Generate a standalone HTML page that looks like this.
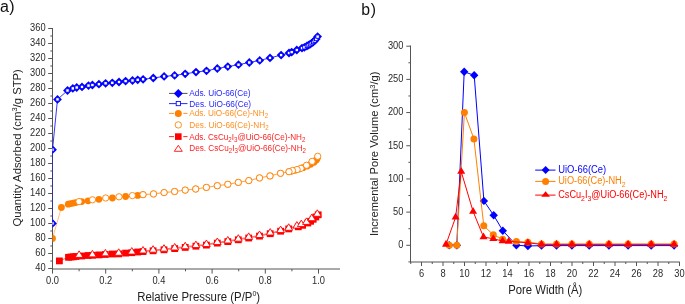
<!DOCTYPE html>
<html><head><meta charset="utf-8"><style>
html,body{margin:0;padding:0;background:#fff;}
body{width:685px;height:304px;overflow:hidden;}
svg{display:block;font-family:"Liberation Sans", sans-serif;will-change:transform;}
</style></head><body>
<svg width="685" height="304" viewBox="0 0 685 304">
<rect width="685" height="304" fill="#fff"/>
<line x1="52.5" y1="28" x2="52.5" y2="273" stroke="#555555" stroke-width="1"/>
<line x1="52.5" y1="269" x2="340" y2="269" stroke="#555555" stroke-width="1"/>
<line x1="48.2" y1="268.50" x2="52.5" y2="268.50" stroke="#555555" stroke-width="1"/>
<text x="0" y="0" font-size="9.3" fill="#2a2a2a" text-anchor="end" transform="translate(45.60,271.10) scale(1,1.17)">40</text>
<line x1="50.3" y1="261.00" x2="52.5" y2="261.00" stroke="#555555" stroke-width="1"/>
<line x1="48.2" y1="253.50" x2="52.5" y2="253.50" stroke="#555555" stroke-width="1"/>
<text x="0" y="0" font-size="9.3" fill="#2a2a2a" text-anchor="end" transform="translate(45.60,256.10) scale(1,1.17)">60</text>
<line x1="50.3" y1="246.00" x2="52.5" y2="246.00" stroke="#555555" stroke-width="1"/>
<line x1="48.2" y1="238.50" x2="52.5" y2="238.50" stroke="#555555" stroke-width="1"/>
<text x="0" y="0" font-size="9.3" fill="#2a2a2a" text-anchor="end" transform="translate(45.60,241.10) scale(1,1.17)">80</text>
<line x1="50.3" y1="231.00" x2="52.5" y2="231.00" stroke="#555555" stroke-width="1"/>
<line x1="48.2" y1="223.50" x2="52.5" y2="223.50" stroke="#555555" stroke-width="1"/>
<text x="0" y="0" font-size="9.3" fill="#2a2a2a" text-anchor="end" transform="translate(45.60,226.10) scale(1,1.17)">100</text>
<line x1="50.3" y1="216.00" x2="52.5" y2="216.00" stroke="#555555" stroke-width="1"/>
<line x1="48.2" y1="208.50" x2="52.5" y2="208.50" stroke="#555555" stroke-width="1"/>
<text x="0" y="0" font-size="9.3" fill="#2a2a2a" text-anchor="end" transform="translate(45.60,211.10) scale(1,1.17)">120</text>
<line x1="50.3" y1="201.00" x2="52.5" y2="201.00" stroke="#555555" stroke-width="1"/>
<line x1="48.2" y1="193.50" x2="52.5" y2="193.50" stroke="#555555" stroke-width="1"/>
<text x="0" y="0" font-size="9.3" fill="#2a2a2a" text-anchor="end" transform="translate(45.60,196.10) scale(1,1.17)">140</text>
<line x1="50.3" y1="186.00" x2="52.5" y2="186.00" stroke="#555555" stroke-width="1"/>
<line x1="48.2" y1="178.50" x2="52.5" y2="178.50" stroke="#555555" stroke-width="1"/>
<text x="0" y="0" font-size="9.3" fill="#2a2a2a" text-anchor="end" transform="translate(45.60,181.10) scale(1,1.17)">160</text>
<line x1="50.3" y1="171.00" x2="52.5" y2="171.00" stroke="#555555" stroke-width="1"/>
<line x1="48.2" y1="163.50" x2="52.5" y2="163.50" stroke="#555555" stroke-width="1"/>
<text x="0" y="0" font-size="9.3" fill="#2a2a2a" text-anchor="end" transform="translate(45.60,166.10) scale(1,1.17)">180</text>
<line x1="50.3" y1="156.00" x2="52.5" y2="156.00" stroke="#555555" stroke-width="1"/>
<line x1="48.2" y1="148.50" x2="52.5" y2="148.50" stroke="#555555" stroke-width="1"/>
<text x="0" y="0" font-size="9.3" fill="#2a2a2a" text-anchor="end" transform="translate(45.60,151.10) scale(1,1.17)">200</text>
<line x1="50.3" y1="141.00" x2="52.5" y2="141.00" stroke="#555555" stroke-width="1"/>
<line x1="48.2" y1="133.50" x2="52.5" y2="133.50" stroke="#555555" stroke-width="1"/>
<text x="0" y="0" font-size="9.3" fill="#2a2a2a" text-anchor="end" transform="translate(45.60,136.10) scale(1,1.17)">220</text>
<line x1="50.3" y1="126.00" x2="52.5" y2="126.00" stroke="#555555" stroke-width="1"/>
<line x1="48.2" y1="118.50" x2="52.5" y2="118.50" stroke="#555555" stroke-width="1"/>
<text x="0" y="0" font-size="9.3" fill="#2a2a2a" text-anchor="end" transform="translate(45.60,121.10) scale(1,1.17)">240</text>
<line x1="50.3" y1="111.00" x2="52.5" y2="111.00" stroke="#555555" stroke-width="1"/>
<line x1="48.2" y1="103.50" x2="52.5" y2="103.50" stroke="#555555" stroke-width="1"/>
<text x="0" y="0" font-size="9.3" fill="#2a2a2a" text-anchor="end" transform="translate(45.60,106.10) scale(1,1.17)">260</text>
<line x1="50.3" y1="96.00" x2="52.5" y2="96.00" stroke="#555555" stroke-width="1"/>
<line x1="48.2" y1="88.50" x2="52.5" y2="88.50" stroke="#555555" stroke-width="1"/>
<text x="0" y="0" font-size="9.3" fill="#2a2a2a" text-anchor="end" transform="translate(45.60,91.10) scale(1,1.17)">280</text>
<line x1="50.3" y1="81.00" x2="52.5" y2="81.00" stroke="#555555" stroke-width="1"/>
<line x1="48.2" y1="73.50" x2="52.5" y2="73.50" stroke="#555555" stroke-width="1"/>
<text x="0" y="0" font-size="9.3" fill="#2a2a2a" text-anchor="end" transform="translate(45.60,76.10) scale(1,1.17)">300</text>
<line x1="50.3" y1="66.00" x2="52.5" y2="66.00" stroke="#555555" stroke-width="1"/>
<line x1="48.2" y1="58.50" x2="52.5" y2="58.50" stroke="#555555" stroke-width="1"/>
<text x="0" y="0" font-size="9.3" fill="#2a2a2a" text-anchor="end" transform="translate(45.60,61.10) scale(1,1.17)">320</text>
<line x1="50.3" y1="51.00" x2="52.5" y2="51.00" stroke="#555555" stroke-width="1"/>
<line x1="48.2" y1="43.50" x2="52.5" y2="43.50" stroke="#555555" stroke-width="1"/>
<text x="0" y="0" font-size="9.3" fill="#2a2a2a" text-anchor="end" transform="translate(45.60,46.10) scale(1,1.17)">340</text>
<line x1="50.3" y1="36.00" x2="52.5" y2="36.00" stroke="#555555" stroke-width="1"/>
<line x1="48.2" y1="28.50" x2="52.5" y2="28.50" stroke="#555555" stroke-width="1"/>
<text x="0" y="0" font-size="9.3" fill="#2a2a2a" text-anchor="end" transform="translate(45.60,31.10) scale(1,1.17)">360</text>
<line x1="52.50" y1="269" x2="52.50" y2="273.6" stroke="#555555" stroke-width="1"/>
<text x="0" y="0" font-size="9.3" fill="#2a2a2a" text-anchor="middle" transform="translate(52.50,283.50) scale(1,1.17)">0.0</text>
<line x1="79.10" y1="269" x2="79.10" y2="271.3" stroke="#555555" stroke-width="1"/>
<line x1="105.70" y1="269" x2="105.70" y2="273.6" stroke="#555555" stroke-width="1"/>
<text x="0" y="0" font-size="9.3" fill="#2a2a2a" text-anchor="middle" transform="translate(105.70,283.50) scale(1,1.17)">0.2</text>
<line x1="132.30" y1="269" x2="132.30" y2="271.3" stroke="#555555" stroke-width="1"/>
<line x1="158.90" y1="269" x2="158.90" y2="273.6" stroke="#555555" stroke-width="1"/>
<text x="0" y="0" font-size="9.3" fill="#2a2a2a" text-anchor="middle" transform="translate(158.90,283.50) scale(1,1.17)">0.4</text>
<line x1="185.50" y1="269" x2="185.50" y2="271.3" stroke="#555555" stroke-width="1"/>
<line x1="212.10" y1="269" x2="212.10" y2="273.6" stroke="#555555" stroke-width="1"/>
<text x="0" y="0" font-size="9.3" fill="#2a2a2a" text-anchor="middle" transform="translate(212.10,283.50) scale(1,1.17)">0.6</text>
<line x1="238.70" y1="269" x2="238.70" y2="271.3" stroke="#555555" stroke-width="1"/>
<line x1="265.30" y1="269" x2="265.30" y2="273.6" stroke="#555555" stroke-width="1"/>
<text x="0" y="0" font-size="9.3" fill="#2a2a2a" text-anchor="middle" transform="translate(265.30,283.50) scale(1,1.17)">0.8</text>
<line x1="291.90" y1="269" x2="291.90" y2="271.3" stroke="#555555" stroke-width="1"/>
<line x1="318.50" y1="269" x2="318.50" y2="273.6" stroke="#555555" stroke-width="1"/>
<text x="0" y="0" font-size="9.3" fill="#2a2a2a" text-anchor="middle" transform="translate(318.50,283.50) scale(1,1.17)">1.0</text>
<text x="0" y="0" font-size="11.3" fill="#222" text-anchor="middle" transform="translate(20.6,147.8) rotate(-90)">Quantity Adsorbed (cm<tspan font-size="7.5" dy="-3.5">3</tspan><tspan dy="3.5">/g STP)</tspan></text>
<text x="0" y="0" transform="translate(137.2,301) scale(1,1.06)" font-size="11.4" fill="#222">Relative Pressure (P/P<tspan font-size="7" dy="-4.6">0</tspan><tspan dy="4.6">)</tspan></text>
<text x="0" y="11.8" font-size="16" fill="#111"><tspan>a</tspan><tspan dx="0.4">)</tspan></text>
<defs><clipPath id="cl"><rect x="52.5" y="20" width="300" height="249"/></clipPath><clipPath id="cr"><rect x="410.5" y="30" width="275" height="232"/></clipPath></defs>
<g clip-path="url(#cl)">
<polyline points="59.40,260.90 68.50,257.30 71.00,257.00 73.50,256.80 76.00,256.50 81.70,256.00 88.10,255.50 92.50,255.30 98.90,254.90 112.40,254.00 125.60,253.10 137.70,252.00 105.40,254.50 118.70,253.90 131.80,252.70 143.00,251.60 153.10,250.80 164.00,249.80 174.70,248.60 185.20,247.40 195.90,246.20 206.40,245.10 217.30,243.10 227.80,241.60 238.30,239.80 248.70,238.00 259.50,236.10 270.20,233.70 280.60,231.20 288.70,228.90 298.30,226.80 302.60,225.30 307.80,223.00 310.60,221.30 313.20,219.30 315.80,217.00 318.20,214.80" fill="none" stroke="#ff0000" stroke-width="0.6" stroke-linejoin="round"/>
<polyline points="317.30,214.10 311.70,218.50 306.50,222.20 301.30,224.40 296.90,225.90 288.70,228.10 280.60,230.40 270.20,232.90 259.50,235.30 248.70,237.20 238.30,239.00 227.80,240.80 217.30,242.30 206.40,244.30 195.90,245.40 185.20,246.60 174.70,247.80 164.00,249.00 153.10,250.00 143.00,250.80 131.80,251.90 118.70,253.10 105.40,253.70 92.40,254.70 79.10,255.20" fill="none" stroke="#ff0000" stroke-width="0.5" stroke-linejoin="round"/>
<rect x="56.00" y="257.50" width="6.80" height="6.80" fill="#ff0000"/>
<rect x="65.10" y="253.90" width="6.80" height="6.80" fill="#ff0000"/>
<rect x="67.60" y="253.60" width="6.80" height="6.80" fill="#ff0000"/>
<rect x="70.10" y="253.40" width="6.80" height="6.80" fill="#ff0000"/>
<rect x="72.60" y="253.10" width="6.80" height="6.80" fill="#ff0000"/>
<rect x="78.30" y="252.60" width="6.80" height="6.80" fill="#ff0000"/>
<rect x="84.70" y="252.10" width="6.80" height="6.80" fill="#ff0000"/>
<rect x="89.10" y="251.90" width="6.80" height="6.80" fill="#ff0000"/>
<rect x="95.50" y="251.50" width="6.80" height="6.80" fill="#ff0000"/>
<rect x="109.00" y="250.60" width="6.80" height="6.80" fill="#ff0000"/>
<rect x="122.20" y="249.70" width="6.80" height="6.80" fill="#ff0000"/>
<rect x="134.30" y="248.60" width="6.80" height="6.80" fill="#ff0000"/>
<rect x="102.00" y="251.10" width="6.80" height="6.80" fill="#ff0000"/>
<rect x="115.30" y="250.50" width="6.80" height="6.80" fill="#ff0000"/>
<rect x="128.40" y="249.30" width="6.80" height="6.80" fill="#ff0000"/>
<rect x="139.60" y="248.20" width="6.80" height="6.80" fill="#ff0000"/>
<rect x="149.70" y="247.40" width="6.80" height="6.80" fill="#ff0000"/>
<rect x="160.60" y="246.40" width="6.80" height="6.80" fill="#ff0000"/>
<rect x="171.30" y="245.20" width="6.80" height="6.80" fill="#ff0000"/>
<rect x="181.80" y="244.00" width="6.80" height="6.80" fill="#ff0000"/>
<rect x="192.50" y="242.80" width="6.80" height="6.80" fill="#ff0000"/>
<rect x="203.00" y="241.70" width="6.80" height="6.80" fill="#ff0000"/>
<rect x="213.90" y="239.70" width="6.80" height="6.80" fill="#ff0000"/>
<rect x="224.40" y="238.20" width="6.80" height="6.80" fill="#ff0000"/>
<rect x="234.90" y="236.40" width="6.80" height="6.80" fill="#ff0000"/>
<rect x="245.30" y="234.60" width="6.80" height="6.80" fill="#ff0000"/>
<rect x="256.10" y="232.70" width="6.80" height="6.80" fill="#ff0000"/>
<rect x="266.80" y="230.30" width="6.80" height="6.80" fill="#ff0000"/>
<rect x="277.20" y="227.80" width="6.80" height="6.80" fill="#ff0000"/>
<rect x="285.30" y="225.50" width="6.80" height="6.80" fill="#ff0000"/>
<rect x="294.90" y="223.40" width="6.80" height="6.80" fill="#ff0000"/>
<rect x="299.20" y="221.90" width="6.80" height="6.80" fill="#ff0000"/>
<rect x="304.40" y="219.60" width="6.80" height="6.80" fill="#ff0000"/>
<rect x="307.20" y="217.90" width="6.80" height="6.80" fill="#ff0000"/>
<rect x="309.80" y="215.90" width="6.80" height="6.80" fill="#ff0000"/>
<rect x="312.40" y="213.60" width="6.80" height="6.80" fill="#ff0000"/>
<rect x="314.80" y="211.40" width="6.80" height="6.80" fill="#ff0000"/>
<polygon points="79.10,250.87 83.00,257.37 75.20,257.37" fill="#fff" stroke="#ff0000" stroke-width="0.9" stroke-linejoin="miter"/>
<polygon points="92.40,250.37 96.30,256.87 88.50,256.87" fill="#fff" stroke="#ff0000" stroke-width="0.9" stroke-linejoin="miter"/>
<polygon points="105.40,249.37 109.30,255.87 101.50,255.87" fill="#fff" stroke="#ff0000" stroke-width="0.9" stroke-linejoin="miter"/>
<polygon points="118.70,248.77 122.60,255.27 114.80,255.27" fill="#fff" stroke="#ff0000" stroke-width="0.9" stroke-linejoin="miter"/>
<polygon points="131.80,247.57 135.70,254.07 127.90,254.07" fill="#fff" stroke="#ff0000" stroke-width="0.9" stroke-linejoin="miter"/>
<polygon points="143.00,246.47 146.90,252.97 139.10,252.97" fill="#fff" stroke="#ff0000" stroke-width="0.9" stroke-linejoin="miter"/>
<polygon points="153.10,245.67 157.00,252.17 149.20,252.17" fill="#fff" stroke="#ff0000" stroke-width="0.9" stroke-linejoin="miter"/>
<polygon points="164.00,244.67 167.90,251.17 160.10,251.17" fill="#fff" stroke="#ff0000" stroke-width="0.9" stroke-linejoin="miter"/>
<polygon points="174.70,243.47 178.60,249.97 170.80,249.97" fill="#fff" stroke="#ff0000" stroke-width="0.9" stroke-linejoin="miter"/>
<polygon points="185.20,242.27 189.10,248.77 181.30,248.77" fill="#fff" stroke="#ff0000" stroke-width="0.9" stroke-linejoin="miter"/>
<polygon points="195.90,241.07 199.80,247.57 192.00,247.57" fill="#fff" stroke="#ff0000" stroke-width="0.9" stroke-linejoin="miter"/>
<polygon points="206.40,239.97 210.30,246.47 202.50,246.47" fill="#fff" stroke="#ff0000" stroke-width="0.9" stroke-linejoin="miter"/>
<polygon points="217.30,237.97 221.20,244.47 213.40,244.47" fill="#fff" stroke="#ff0000" stroke-width="0.9" stroke-linejoin="miter"/>
<polygon points="227.80,236.47 231.70,242.97 223.90,242.97" fill="#fff" stroke="#ff0000" stroke-width="0.9" stroke-linejoin="miter"/>
<polygon points="238.30,234.67 242.20,241.17 234.40,241.17" fill="#fff" stroke="#ff0000" stroke-width="0.9" stroke-linejoin="miter"/>
<polygon points="248.70,232.87 252.60,239.37 244.80,239.37" fill="#fff" stroke="#ff0000" stroke-width="0.9" stroke-linejoin="miter"/>
<polygon points="259.50,230.97 263.40,237.47 255.60,237.47" fill="#fff" stroke="#ff0000" stroke-width="0.9" stroke-linejoin="miter"/>
<polygon points="270.20,228.57 274.10,235.07 266.30,235.07" fill="#fff" stroke="#ff0000" stroke-width="0.9" stroke-linejoin="miter"/>
<polygon points="280.60,226.07 284.50,232.57 276.70,232.57" fill="#fff" stroke="#ff0000" stroke-width="0.9" stroke-linejoin="miter"/>
<polygon points="288.70,223.77 292.60,230.27 284.80,230.27" fill="#fff" stroke="#ff0000" stroke-width="0.9" stroke-linejoin="miter"/>
<polygon points="296.90,221.57 300.80,228.07 293.00,228.07" fill="#fff" stroke="#ff0000" stroke-width="0.9" stroke-linejoin="miter"/>
<polygon points="301.30,220.07 305.20,226.57 297.40,226.57" fill="#fff" stroke="#ff0000" stroke-width="0.9" stroke-linejoin="miter"/>
<polygon points="306.50,217.87 310.40,224.37 302.60,224.37" fill="#fff" stroke="#ff0000" stroke-width="0.9" stroke-linejoin="miter"/>
<polygon points="311.70,214.17 315.60,220.67 307.80,220.67" fill="#fff" stroke="#ff0000" stroke-width="0.9" stroke-linejoin="miter"/>
<polygon points="317.30,209.77 321.20,216.27 313.40,216.27" fill="#fff" stroke="#ff0000" stroke-width="0.9" stroke-linejoin="miter"/>
<polyline points="52.50,238.40 61.40,207.50 68.30,204.20 70.80,203.60 73.30,203.10 75.70,202.60 81.70,201.60 88.10,200.80 98.90,199.30 112.40,198.00 125.60,196.50 137.70,195.40 143.00,194.70 153.50,193.90 164.10,192.60 174.60,191.50 185.20,190.10 195.70,189.00 206.40,187.40 217.30,185.70 227.80,184.30 238.30,182.40 248.80,180.60 259.50,177.90 270.00,175.90 280.50,173.30 289.00,171.70 291.00,171.30 295.00,170.30 299.00,169.10 303.00,167.70 307.20,166.00 310.60,164.30 314.00,162.30 316.30,160.00 317.30,158.30" fill="none" stroke="#ff8000" stroke-width="0.5" stroke-linejoin="round"/>
<polyline points="317.70,156.30 312.10,161.40 306.50,165.30 301.00,168.30 297.10,169.50 292.50,170.60 289.00,171.70 280.50,173.30 270.00,175.90 259.50,177.90 248.80,180.60 238.30,182.40 227.80,184.30 217.30,185.70 206.40,187.40 195.70,189.00 185.20,190.10 174.60,191.50 164.10,192.60 153.50,193.90 143.00,194.70 132.40,195.60 119.00,196.80 105.70,198.00 92.50,199.80 79.00,201.60" fill="none" stroke="#ff8000" stroke-width="0.4" stroke-linejoin="round"/>
<circle cx="52.50" cy="238.40" r="3.40" fill="#ff8000"/>
<circle cx="61.40" cy="207.50" r="3.40" fill="#ff8000"/>
<circle cx="68.30" cy="204.20" r="3.40" fill="#ff8000"/>
<circle cx="70.80" cy="203.60" r="3.40" fill="#ff8000"/>
<circle cx="73.30" cy="203.10" r="3.40" fill="#ff8000"/>
<circle cx="75.70" cy="202.60" r="3.40" fill="#ff8000"/>
<circle cx="81.70" cy="201.60" r="3.40" fill="#ff8000"/>
<circle cx="88.10" cy="200.80" r="3.40" fill="#ff8000"/>
<circle cx="98.90" cy="199.30" r="3.40" fill="#ff8000"/>
<circle cx="112.40" cy="198.00" r="3.40" fill="#ff8000"/>
<circle cx="125.60" cy="196.50" r="3.40" fill="#ff8000"/>
<circle cx="137.70" cy="195.40" r="3.40" fill="#ff8000"/>
<circle cx="143.00" cy="194.70" r="3.40" fill="#ff8000"/>
<circle cx="153.50" cy="193.90" r="3.40" fill="#ff8000"/>
<circle cx="164.10" cy="192.60" r="3.40" fill="#ff8000"/>
<circle cx="174.60" cy="191.50" r="3.40" fill="#ff8000"/>
<circle cx="185.20" cy="190.10" r="3.40" fill="#ff8000"/>
<circle cx="195.70" cy="189.00" r="3.40" fill="#ff8000"/>
<circle cx="206.40" cy="187.40" r="3.40" fill="#ff8000"/>
<circle cx="217.30" cy="185.70" r="3.40" fill="#ff8000"/>
<circle cx="227.80" cy="184.30" r="3.40" fill="#ff8000"/>
<circle cx="238.30" cy="182.40" r="3.40" fill="#ff8000"/>
<circle cx="248.80" cy="180.60" r="3.40" fill="#ff8000"/>
<circle cx="259.50" cy="177.90" r="3.40" fill="#ff8000"/>
<circle cx="270.00" cy="175.90" r="3.40" fill="#ff8000"/>
<circle cx="280.50" cy="173.30" r="3.40" fill="#ff8000"/>
<circle cx="289.00" cy="171.70" r="3.40" fill="#ff8000"/>
<circle cx="291.00" cy="171.30" r="3.40" fill="#ff8000"/>
<circle cx="295.00" cy="170.30" r="3.40" fill="#ff8000"/>
<circle cx="299.00" cy="169.10" r="3.40" fill="#ff8000"/>
<circle cx="303.00" cy="167.70" r="3.40" fill="#ff8000"/>
<circle cx="307.20" cy="166.00" r="3.40" fill="#ff8000"/>
<circle cx="310.60" cy="164.30" r="3.40" fill="#ff8000"/>
<circle cx="314.00" cy="162.30" r="3.40" fill="#ff8000"/>
<circle cx="316.30" cy="160.00" r="3.40" fill="#ff8000"/>
<circle cx="317.30" cy="158.30" r="3.40" fill="#ff8000"/>
<circle cx="317.70" cy="156.30" r="3.15" fill="#fff" stroke="#ff8000" stroke-width="0.9"/>
<circle cx="312.10" cy="161.40" r="3.15" fill="#fff" stroke="#ff8000" stroke-width="0.9"/>
<circle cx="306.50" cy="165.30" r="3.15" fill="#fff" stroke="#ff8000" stroke-width="0.9"/>
<circle cx="301.00" cy="168.30" r="3.15" fill="#fff" stroke="#ff8000" stroke-width="0.9"/>
<circle cx="297.10" cy="169.50" r="3.15" fill="#fff" stroke="#ff8000" stroke-width="0.9"/>
<circle cx="292.50" cy="170.60" r="3.15" fill="#fff" stroke="#ff8000" stroke-width="0.9"/>
<circle cx="289.00" cy="171.70" r="3.15" fill="#fff" stroke="#ff8000" stroke-width="0.9"/>
<circle cx="280.50" cy="173.30" r="3.15" fill="#fff" stroke="#ff8000" stroke-width="0.9"/>
<circle cx="270.00" cy="175.90" r="3.15" fill="#fff" stroke="#ff8000" stroke-width="0.9"/>
<circle cx="259.50" cy="177.90" r="3.15" fill="#fff" stroke="#ff8000" stroke-width="0.9"/>
<circle cx="248.80" cy="180.60" r="3.15" fill="#fff" stroke="#ff8000" stroke-width="0.9"/>
<circle cx="238.30" cy="182.40" r="3.15" fill="#fff" stroke="#ff8000" stroke-width="0.9"/>
<circle cx="227.80" cy="184.30" r="3.15" fill="#fff" stroke="#ff8000" stroke-width="0.9"/>
<circle cx="217.30" cy="185.70" r="3.15" fill="#fff" stroke="#ff8000" stroke-width="0.9"/>
<circle cx="206.40" cy="187.40" r="3.15" fill="#fff" stroke="#ff8000" stroke-width="0.9"/>
<circle cx="195.70" cy="189.00" r="3.15" fill="#fff" stroke="#ff8000" stroke-width="0.9"/>
<circle cx="185.20" cy="190.10" r="3.15" fill="#fff" stroke="#ff8000" stroke-width="0.9"/>
<circle cx="174.60" cy="191.50" r="3.15" fill="#fff" stroke="#ff8000" stroke-width="0.9"/>
<circle cx="164.10" cy="192.60" r="3.15" fill="#fff" stroke="#ff8000" stroke-width="0.9"/>
<circle cx="153.50" cy="193.90" r="3.15" fill="#fff" stroke="#ff8000" stroke-width="0.9"/>
<circle cx="143.00" cy="194.70" r="3.15" fill="#fff" stroke="#ff8000" stroke-width="0.9"/>
<circle cx="132.40" cy="195.60" r="3.15" fill="#fff" stroke="#ff8000" stroke-width="0.9"/>
<circle cx="119.00" cy="196.80" r="3.15" fill="#fff" stroke="#ff8000" stroke-width="0.9"/>
<circle cx="105.70" cy="198.00" r="3.15" fill="#fff" stroke="#ff8000" stroke-width="0.9"/>
<circle cx="92.50" cy="199.80" r="3.15" fill="#fff" stroke="#ff8000" stroke-width="0.9"/>
<circle cx="79.00" cy="201.60" r="3.15" fill="#fff" stroke="#ff8000" stroke-width="0.9"/>
<polyline points="317.60,36.60 316.20,39.00 314.70,40.70 313.20,42.00 311.60,43.20 310.00,44.30 308.50,45.20 306.90,46.00 304.40,47.30 302.00,48.10 296.80,50.00 291.70,52.10 289.00,53.00 281.10,55.10 270.00,57.90 259.70,60.40 249.30,62.50 238.50,64.70 227.80,66.60 217.30,68.50 206.50,70.80 196.00,72.10 185.20,73.80 174.60,75.40 164.10,76.40 153.30,78.00 143.10,79.30 137.70,79.80 132.50,80.50 125.60,81.10 119.00,82.00 112.30,82.80 105.60,83.30 98.90,84.20 92.40,85.00 88.50,85.60 82.00,86.90 76.70,87.50 72.80,88.40 67.50,90.50 57.50,99.40 52.50,149.70 52.50,223.40" fill="none" stroke="#0000ff" stroke-width="0.8" stroke-linejoin="round"/>
<polygon points="52.50,219.00 56.90,223.40 52.50,227.80 48.10,223.40" fill="#0000ff"/>
<polygon points="52.50,145.30 56.90,149.70 52.50,154.10 48.10,149.70" fill="#0000ff"/>
<polygon points="57.50,95.00 61.90,99.40 57.50,103.80 53.10,99.40" fill="#0000ff"/>
<polygon points="67.50,86.10 71.90,90.50 67.50,94.90 63.10,90.50" fill="#0000ff"/>
<polygon points="72.80,84.00 77.20,88.40 72.80,92.80 68.40,88.40" fill="#0000ff"/>
<polygon points="76.70,83.10 81.10,87.50 76.70,91.90 72.30,87.50" fill="#0000ff"/>
<polygon points="82.00,82.50 86.40,86.90 82.00,91.30 77.60,86.90" fill="#0000ff"/>
<polygon points="88.50,81.20 92.90,85.60 88.50,90.00 84.10,85.60" fill="#0000ff"/>
<polygon points="92.40,80.60 96.80,85.00 92.40,89.40 88.00,85.00" fill="#0000ff"/>
<polygon points="98.90,79.80 103.30,84.20 98.90,88.60 94.50,84.20" fill="#0000ff"/>
<polygon points="105.60,78.90 110.00,83.30 105.60,87.70 101.20,83.30" fill="#0000ff"/>
<polygon points="112.30,78.40 116.70,82.80 112.30,87.20 107.90,82.80" fill="#0000ff"/>
<polygon points="119.00,77.60 123.40,82.00 119.00,86.40 114.60,82.00" fill="#0000ff"/>
<polygon points="125.60,76.70 130.00,81.10 125.60,85.50 121.20,81.10" fill="#0000ff"/>
<polygon points="132.50,76.10 136.90,80.50 132.50,84.90 128.10,80.50" fill="#0000ff"/>
<polygon points="137.70,75.40 142.10,79.80 137.70,84.20 133.30,79.80" fill="#0000ff"/>
<polygon points="143.10,74.90 147.50,79.30 143.10,83.70 138.70,79.30" fill="#0000ff"/>
<polygon points="153.30,73.60 157.70,78.00 153.30,82.40 148.90,78.00" fill="#0000ff"/>
<polygon points="164.10,72.00 168.50,76.40 164.10,80.80 159.70,76.40" fill="#0000ff"/>
<polygon points="174.60,71.00 179.00,75.40 174.60,79.80 170.20,75.40" fill="#0000ff"/>
<polygon points="185.20,69.40 189.60,73.80 185.20,78.20 180.80,73.80" fill="#0000ff"/>
<polygon points="196.00,67.70 200.40,72.10 196.00,76.50 191.60,72.10" fill="#0000ff"/>
<polygon points="206.50,66.40 210.90,70.80 206.50,75.20 202.10,70.80" fill="#0000ff"/>
<polygon points="217.30,64.10 221.70,68.50 217.30,72.90 212.90,68.50" fill="#0000ff"/>
<polygon points="227.80,62.20 232.20,66.60 227.80,71.00 223.40,66.60" fill="#0000ff"/>
<polygon points="238.50,60.30 242.90,64.70 238.50,69.10 234.10,64.70" fill="#0000ff"/>
<polygon points="249.30,58.10 253.70,62.50 249.30,66.90 244.90,62.50" fill="#0000ff"/>
<polygon points="259.70,56.00 264.10,60.40 259.70,64.80 255.30,60.40" fill="#0000ff"/>
<polygon points="270.00,53.50 274.40,57.90 270.00,62.30 265.60,57.90" fill="#0000ff"/>
<polygon points="281.10,50.70 285.50,55.10 281.10,59.50 276.70,55.10" fill="#0000ff"/>
<polygon points="289.00,48.60 293.40,53.00 289.00,57.40 284.60,53.00" fill="#0000ff"/>
<polygon points="291.70,47.70 296.10,52.10 291.70,56.50 287.30,52.10" fill="#0000ff"/>
<polygon points="296.80,45.60 301.20,50.00 296.80,54.40 292.40,50.00" fill="#0000ff"/>
<polygon points="302.00,43.70 306.40,48.10 302.00,52.50 297.60,48.10" fill="#0000ff"/>
<polygon points="304.40,42.90 308.80,47.30 304.40,51.70 300.00,47.30" fill="#0000ff"/>
<polygon points="306.90,41.60 311.30,46.00 306.90,50.40 302.50,46.00" fill="#0000ff"/>
<polygon points="308.50,40.80 312.90,45.20 308.50,49.60 304.10,45.20" fill="#0000ff"/>
<polygon points="310.00,39.90 314.40,44.30 310.00,48.70 305.60,44.30" fill="#0000ff"/>
<polygon points="311.60,38.80 316.00,43.20 311.60,47.60 307.20,43.20" fill="#0000ff"/>
<polygon points="313.20,37.60 317.60,42.00 313.20,46.40 308.80,42.00" fill="#0000ff"/>
<polygon points="314.70,36.30 319.10,40.70 314.70,45.10 310.30,40.70" fill="#0000ff"/>
<polygon points="316.20,34.60 320.60,39.00 316.20,43.40 311.80,39.00" fill="#0000ff"/>
<polygon points="317.60,32.20 322.00,36.60 317.60,41.00 313.20,36.60" fill="#0000ff"/>
<rect x="50.80" y="221.70" width="3.40" height="3.40" fill="#fff" stroke="#0000ff" stroke-width="0.9"/>
<rect x="50.80" y="148.00" width="3.40" height="3.40" fill="#fff" stroke="#0000ff" stroke-width="0.9"/>
<rect x="55.80" y="97.70" width="3.40" height="3.40" fill="#fff" stroke="#0000ff" stroke-width="0.9"/>
<rect x="65.80" y="88.80" width="3.40" height="3.40" fill="#fff" stroke="#0000ff" stroke-width="0.9"/>
<rect x="71.10" y="86.70" width="3.40" height="3.40" fill="#fff" stroke="#0000ff" stroke-width="0.9"/>
<rect x="75.00" y="85.80" width="3.40" height="3.40" fill="#fff" stroke="#0000ff" stroke-width="0.9"/>
<rect x="80.30" y="85.20" width="3.40" height="3.40" fill="#fff" stroke="#0000ff" stroke-width="0.9"/>
<rect x="86.80" y="83.90" width="3.40" height="3.40" fill="#fff" stroke="#0000ff" stroke-width="0.9"/>
<rect x="90.70" y="83.30" width="3.40" height="3.40" fill="#fff" stroke="#0000ff" stroke-width="0.9"/>
<rect x="97.20" y="82.50" width="3.40" height="3.40" fill="#fff" stroke="#0000ff" stroke-width="0.9"/>
<rect x="103.90" y="81.60" width="3.40" height="3.40" fill="#fff" stroke="#0000ff" stroke-width="0.9"/>
<rect x="110.60" y="81.10" width="3.40" height="3.40" fill="#fff" stroke="#0000ff" stroke-width="0.9"/>
<rect x="117.30" y="80.30" width="3.40" height="3.40" fill="#fff" stroke="#0000ff" stroke-width="0.9"/>
<rect x="123.90" y="79.40" width="3.40" height="3.40" fill="#fff" stroke="#0000ff" stroke-width="0.9"/>
<rect x="130.80" y="78.80" width="3.40" height="3.40" fill="#fff" stroke="#0000ff" stroke-width="0.9"/>
<rect x="136.00" y="78.10" width="3.40" height="3.40" fill="#fff" stroke="#0000ff" stroke-width="0.9"/>
<rect x="141.40" y="77.60" width="3.40" height="3.40" fill="#fff" stroke="#0000ff" stroke-width="0.9"/>
<rect x="151.60" y="76.30" width="3.40" height="3.40" fill="#fff" stroke="#0000ff" stroke-width="0.9"/>
<rect x="162.40" y="74.70" width="3.40" height="3.40" fill="#fff" stroke="#0000ff" stroke-width="0.9"/>
<rect x="172.90" y="73.70" width="3.40" height="3.40" fill="#fff" stroke="#0000ff" stroke-width="0.9"/>
<rect x="183.50" y="72.10" width="3.40" height="3.40" fill="#fff" stroke="#0000ff" stroke-width="0.9"/>
<rect x="194.30" y="70.40" width="3.40" height="3.40" fill="#fff" stroke="#0000ff" stroke-width="0.9"/>
<rect x="204.80" y="69.10" width="3.40" height="3.40" fill="#fff" stroke="#0000ff" stroke-width="0.9"/>
<rect x="215.60" y="66.80" width="3.40" height="3.40" fill="#fff" stroke="#0000ff" stroke-width="0.9"/>
<rect x="226.10" y="64.90" width="3.40" height="3.40" fill="#fff" stroke="#0000ff" stroke-width="0.9"/>
<rect x="236.80" y="63.00" width="3.40" height="3.40" fill="#fff" stroke="#0000ff" stroke-width="0.9"/>
<rect x="247.60" y="60.80" width="3.40" height="3.40" fill="#fff" stroke="#0000ff" stroke-width="0.9"/>
<rect x="258.00" y="58.70" width="3.40" height="3.40" fill="#fff" stroke="#0000ff" stroke-width="0.9"/>
<rect x="268.30" y="56.20" width="3.40" height="3.40" fill="#fff" stroke="#0000ff" stroke-width="0.9"/>
<rect x="279.40" y="53.40" width="3.40" height="3.40" fill="#fff" stroke="#0000ff" stroke-width="0.9"/>
<rect x="287.30" y="51.30" width="3.40" height="3.40" fill="#fff" stroke="#0000ff" stroke-width="0.9"/>
<rect x="290.00" y="50.40" width="3.40" height="3.40" fill="#fff" stroke="#0000ff" stroke-width="0.9"/>
<rect x="295.10" y="48.30" width="3.40" height="3.40" fill="#fff" stroke="#0000ff" stroke-width="0.9"/>
<rect x="300.30" y="46.40" width="3.40" height="3.40" fill="#fff" stroke="#0000ff" stroke-width="0.9"/>
<rect x="302.70" y="45.60" width="3.40" height="3.40" fill="#fff" stroke="#0000ff" stroke-width="0.9"/>
<rect x="305.20" y="44.30" width="3.40" height="3.40" fill="#fff" stroke="#0000ff" stroke-width="0.9"/>
<rect x="306.80" y="43.50" width="3.40" height="3.40" fill="#fff" stroke="#0000ff" stroke-width="0.9"/>
<rect x="308.30" y="42.60" width="3.40" height="3.40" fill="#fff" stroke="#0000ff" stroke-width="0.9"/>
<rect x="309.90" y="41.50" width="3.40" height="3.40" fill="#fff" stroke="#0000ff" stroke-width="0.9"/>
<rect x="311.50" y="40.30" width="3.40" height="3.40" fill="#fff" stroke="#0000ff" stroke-width="0.9"/>
<rect x="313.00" y="39.00" width="3.40" height="3.40" fill="#fff" stroke="#0000ff" stroke-width="0.9"/>
<rect x="314.50" y="37.30" width="3.40" height="3.40" fill="#fff" stroke="#0000ff" stroke-width="0.9"/>
<rect x="315.90" y="34.90" width="3.40" height="3.40" fill="#fff" stroke="#0000ff" stroke-width="0.9"/>
</g>
<line x1="169" y1="93.4" x2="187.5" y2="93.4" stroke="#333" stroke-width="0.85"/>
<polygon points="178.30,88.90 182.80,93.40 178.30,97.90 173.80,93.40" fill="#0000ff"/>
<text x="189.3" y="95.8" font-size="8.4" fill="#0000ff" fill-opacity="0.88" textLength="61.20" lengthAdjust="spacingAndGlyphs"><tspan dy="0.00">Ads. UiO-66(Ce)</tspan></text>
<line x1="169" y1="103.6" x2="187.5" y2="103.6" stroke="#0000ff" stroke-width="0.85"/>
<rect x="176.20" y="101.50" width="4.20" height="4.20" fill="#fff" stroke="#0000ff" stroke-width="0.85"/>
<text x="189.3" y="106.6" font-size="8.4" fill="#0000ff" fill-opacity="0.88" textLength="61.80" lengthAdjust="spacingAndGlyphs"><tspan dy="0.00">Des. UiO-66(Ce)</tspan></text>
<line x1="169" y1="113.4" x2="174" y2="113.4" stroke="#ff8000" stroke-width="0.85"/>
<line x1="183.3" y1="113.4" x2="187.5" y2="113.4" stroke="#ff8000" stroke-width="0.85"/>
<circle cx="178.30" cy="113.40" r="3.50" fill="#ff8000"/>
<text x="189.3" y="116.4" font-size="8.4" fill="#ff8000" fill-opacity="0.88" textLength="78.80" lengthAdjust="spacingAndGlyphs"><tspan dy="0.00">Ads. UiO-66(Ce)-NH</tspan><tspan font-size="6.30" dy="2.02">2</tspan></text>
<circle cx="178.30" cy="124.90" r="3.20" fill="#fff" stroke="#ff8000" stroke-width="0.85"/>
<text x="189.3" y="127.6" font-size="8.4" fill="#ff8000" fill-opacity="0.88" textLength="79.40" lengthAdjust="spacingAndGlyphs"><tspan dy="0.00">Des. UiO-66(Ce)-NH</tspan><tspan font-size="6.30" dy="2.02">2</tspan></text>
<line x1="169" y1="136.6" x2="174" y2="136.6" stroke="#ff0000" stroke-width="0.85"/>
<line x1="183.3" y1="136.6" x2="187.5" y2="136.6" stroke="#ff0000" stroke-width="0.85"/>
<rect x="175.00" y="133.30" width="6.60" height="6.60" fill="#ff0000"/>
<text x="189.3" y="139.5" font-size="8.4" fill="#ff0000" fill-opacity="0.88" textLength="116.10" lengthAdjust="spacingAndGlyphs"><tspan dy="0.00">Ads. CsCu</tspan><tspan font-size="6.30" dy="2.02">2</tspan><tspan dy="-2.02">I</tspan><tspan font-size="6.30" dy="2.02">3</tspan><tspan dy="-2.02">@UiO-66(Ce)-NH</tspan><tspan font-size="6.30" dy="2.02">2</tspan></text>
<polygon points="178.30,145.30 182.30,151.30 174.30,151.30" fill="#fff" stroke="#ff0000" stroke-width="0.85" stroke-linejoin="miter"/>
<text x="189.3" y="151.4" font-size="8.4" fill="#ff0000" fill-opacity="0.88" textLength="116.70" lengthAdjust="spacingAndGlyphs"><tspan dy="0.00">Des. CsCu</tspan><tspan font-size="6.30" dy="2.02">2</tspan><tspan dy="-2.02">I</tspan><tspan font-size="6.30" dy="2.02">3</tspan><tspan dy="-2.02">@UiO-66(Ce)-NH</tspan><tspan font-size="6.30" dy="2.02">2</tspan></text>
<line x1="410.5" y1="45.5" x2="410.5" y2="262.5" stroke="#555555" stroke-width="1"/>
<line x1="410.5" y1="262" x2="679.8" y2="262" stroke="#555555" stroke-width="1"/>
<line x1="408.4" y1="261.89" x2="410.5" y2="261.89" stroke="#555555" stroke-width="1"/>
<line x1="406.3" y1="245.30" x2="410.5" y2="245.30" stroke="#555555" stroke-width="1"/>
<text x="0" y="0" font-size="9.3" fill="#2a2a2a" text-anchor="end" transform="translate(403.40,248.10) scale(1,1.17)">0</text>
<line x1="408.4" y1="228.71" x2="410.5" y2="228.71" stroke="#555555" stroke-width="1"/>
<line x1="406.3" y1="212.12" x2="410.5" y2="212.12" stroke="#555555" stroke-width="1"/>
<text x="0" y="0" font-size="9.3" fill="#2a2a2a" text-anchor="end" transform="translate(403.40,214.92) scale(1,1.17)">50</text>
<line x1="408.4" y1="195.52" x2="410.5" y2="195.52" stroke="#555555" stroke-width="1"/>
<line x1="406.3" y1="178.93" x2="410.5" y2="178.93" stroke="#555555" stroke-width="1"/>
<text x="0" y="0" font-size="9.3" fill="#2a2a2a" text-anchor="end" transform="translate(403.40,181.73) scale(1,1.17)">100</text>
<line x1="408.4" y1="162.34" x2="410.5" y2="162.34" stroke="#555555" stroke-width="1"/>
<line x1="406.3" y1="145.75" x2="410.5" y2="145.75" stroke="#555555" stroke-width="1"/>
<text x="0" y="0" font-size="9.3" fill="#2a2a2a" text-anchor="end" transform="translate(403.40,148.55) scale(1,1.17)">150</text>
<line x1="408.4" y1="129.15" x2="410.5" y2="129.15" stroke="#555555" stroke-width="1"/>
<line x1="406.3" y1="112.56" x2="410.5" y2="112.56" stroke="#555555" stroke-width="1"/>
<text x="0" y="0" font-size="9.3" fill="#2a2a2a" text-anchor="end" transform="translate(403.40,115.36) scale(1,1.17)">200</text>
<line x1="408.4" y1="95.97" x2="410.5" y2="95.97" stroke="#555555" stroke-width="1"/>
<line x1="406.3" y1="79.38" x2="410.5" y2="79.38" stroke="#555555" stroke-width="1"/>
<text x="0" y="0" font-size="9.3" fill="#2a2a2a" text-anchor="end" transform="translate(403.40,82.18) scale(1,1.17)">250</text>
<line x1="408.4" y1="62.78" x2="410.5" y2="62.78" stroke="#555555" stroke-width="1"/>
<line x1="406.3" y1="46.19" x2="410.5" y2="46.19" stroke="#555555" stroke-width="1"/>
<text x="0" y="0" font-size="9.3" fill="#2a2a2a" text-anchor="end" transform="translate(403.40,48.99) scale(1,1.17)">300</text>
<line x1="410.75" y1="262" x2="410.75" y2="264" stroke="#555555" stroke-width="1"/>
<line x1="421.50" y1="262" x2="421.50" y2="266" stroke="#555555" stroke-width="1"/>
<text x="0" y="0" font-size="9.3" fill="#2a2a2a" text-anchor="middle" transform="translate(421.50,276.60) scale(1,1.17)">6</text>
<line x1="432.25" y1="262" x2="432.25" y2="264" stroke="#555555" stroke-width="1"/>
<line x1="443.00" y1="262" x2="443.00" y2="266" stroke="#555555" stroke-width="1"/>
<text x="0" y="0" font-size="9.3" fill="#2a2a2a" text-anchor="middle" transform="translate(443.00,276.60) scale(1,1.17)">8</text>
<line x1="453.75" y1="262" x2="453.75" y2="264" stroke="#555555" stroke-width="1"/>
<line x1="464.50" y1="262" x2="464.50" y2="266" stroke="#555555" stroke-width="1"/>
<text x="0" y="0" font-size="9.3" fill="#2a2a2a" text-anchor="middle" transform="translate(464.50,276.60) scale(1,1.17)">10</text>
<line x1="475.25" y1="262" x2="475.25" y2="264" stroke="#555555" stroke-width="1"/>
<line x1="486.00" y1="262" x2="486.00" y2="266" stroke="#555555" stroke-width="1"/>
<text x="0" y="0" font-size="9.3" fill="#2a2a2a" text-anchor="middle" transform="translate(486.00,276.60) scale(1,1.17)">12</text>
<line x1="496.75" y1="262" x2="496.75" y2="264" stroke="#555555" stroke-width="1"/>
<line x1="507.50" y1="262" x2="507.50" y2="266" stroke="#555555" stroke-width="1"/>
<text x="0" y="0" font-size="9.3" fill="#2a2a2a" text-anchor="middle" transform="translate(507.50,276.60) scale(1,1.17)">14</text>
<line x1="518.25" y1="262" x2="518.25" y2="264" stroke="#555555" stroke-width="1"/>
<line x1="529.00" y1="262" x2="529.00" y2="266" stroke="#555555" stroke-width="1"/>
<text x="0" y="0" font-size="9.3" fill="#2a2a2a" text-anchor="middle" transform="translate(529.00,276.60) scale(1,1.17)">16</text>
<line x1="539.75" y1="262" x2="539.75" y2="264" stroke="#555555" stroke-width="1"/>
<line x1="550.50" y1="262" x2="550.50" y2="266" stroke="#555555" stroke-width="1"/>
<text x="0" y="0" font-size="9.3" fill="#2a2a2a" text-anchor="middle" transform="translate(550.50,276.60) scale(1,1.17)">18</text>
<line x1="561.25" y1="262" x2="561.25" y2="264" stroke="#555555" stroke-width="1"/>
<line x1="572.00" y1="262" x2="572.00" y2="266" stroke="#555555" stroke-width="1"/>
<text x="0" y="0" font-size="9.3" fill="#2a2a2a" text-anchor="middle" transform="translate(572.00,276.60) scale(1,1.17)">20</text>
<line x1="582.75" y1="262" x2="582.75" y2="264" stroke="#555555" stroke-width="1"/>
<line x1="593.50" y1="262" x2="593.50" y2="266" stroke="#555555" stroke-width="1"/>
<text x="0" y="0" font-size="9.3" fill="#2a2a2a" text-anchor="middle" transform="translate(593.50,276.60) scale(1,1.17)">22</text>
<line x1="604.25" y1="262" x2="604.25" y2="264" stroke="#555555" stroke-width="1"/>
<line x1="615.00" y1="262" x2="615.00" y2="266" stroke="#555555" stroke-width="1"/>
<text x="0" y="0" font-size="9.3" fill="#2a2a2a" text-anchor="middle" transform="translate(615.00,276.60) scale(1,1.17)">24</text>
<line x1="625.75" y1="262" x2="625.75" y2="264" stroke="#555555" stroke-width="1"/>
<line x1="636.50" y1="262" x2="636.50" y2="266" stroke="#555555" stroke-width="1"/>
<text x="0" y="0" font-size="9.3" fill="#2a2a2a" text-anchor="middle" transform="translate(636.50,276.60) scale(1,1.17)">26</text>
<line x1="647.25" y1="262" x2="647.25" y2="264" stroke="#555555" stroke-width="1"/>
<line x1="658.00" y1="262" x2="658.00" y2="266" stroke="#555555" stroke-width="1"/>
<text x="0" y="0" font-size="9.3" fill="#2a2a2a" text-anchor="middle" transform="translate(658.00,276.60) scale(1,1.17)">28</text>
<line x1="668.75" y1="262" x2="668.75" y2="264" stroke="#555555" stroke-width="1"/>
<line x1="679.50" y1="262" x2="679.50" y2="266" stroke="#555555" stroke-width="1"/>
<text x="0" y="0" font-size="9.3" fill="#2a2a2a" text-anchor="middle" transform="translate(679.50,276.60) scale(1,1.17)">30</text>
<text x="0" y="0" font-size="11.2" fill="#222" text-anchor="middle" transform="translate(378.2,153.8) rotate(-90)">Incremental Pore Volume (cm<tspan font-size="7.5" dy="-3.5">3</tspan><tspan dy="3.5">/g)</tspan></text>
<text x="0" y="0" transform="translate(508.3,294.0) scale(1,1.09)" font-size="11.3" fill="#222">Pore Width (Å)</text>
<text x="361.2" y="14.6" font-size="15.8" fill="#111">b<tspan dx="0.8">)</tspan></text>
<g clip-path="url(#cr)">
<polyline points="449.20,245.30 456.80,245.30 464.20,71.80 474.20,75.30 483.90,200.90 493.70,215.30 502.80,230.70 516.40,245.20 527.90,246.00 541.50,245.60 556.50,245.60 571.90,245.60 589.20,245.60 608.90,245.60 628.10,245.60 651.20,245.60 674.10,245.60" fill="none" stroke="#0000ff" stroke-width="1.0" stroke-linejoin="round"/>
<polygon points="449.20,241.10 453.40,245.30 449.20,249.50 445.00,245.30" fill="#0000ff"/>
<polygon points="456.80,241.10 461.00,245.30 456.80,249.50 452.60,245.30" fill="#0000ff"/>
<polygon points="464.20,67.60 468.40,71.80 464.20,76.00 460.00,71.80" fill="#0000ff"/>
<polygon points="474.20,71.10 478.40,75.30 474.20,79.50 470.00,75.30" fill="#0000ff"/>
<polygon points="483.90,196.70 488.10,200.90 483.90,205.10 479.70,200.90" fill="#0000ff"/>
<polygon points="493.70,211.10 497.90,215.30 493.70,219.50 489.50,215.30" fill="#0000ff"/>
<polygon points="502.80,226.50 507.00,230.70 502.80,234.90 498.60,230.70" fill="#0000ff"/>
<polygon points="516.40,241.00 520.60,245.20 516.40,249.40 512.20,245.20" fill="#0000ff"/>
<polygon points="527.90,241.80 532.10,246.00 527.90,250.20 523.70,246.00" fill="#0000ff"/>
<polygon points="541.50,241.40 545.70,245.60 541.50,249.80 537.30,245.60" fill="#0000ff"/>
<polygon points="556.50,241.40 560.70,245.60 556.50,249.80 552.30,245.60" fill="#0000ff"/>
<polygon points="571.90,241.40 576.10,245.60 571.90,249.80 567.70,245.60" fill="#0000ff"/>
<polygon points="589.20,241.40 593.40,245.60 589.20,249.80 585.00,245.60" fill="#0000ff"/>
<polygon points="608.90,241.40 613.10,245.60 608.90,249.80 604.70,245.60" fill="#0000ff"/>
<polygon points="628.10,241.40 632.30,245.60 628.10,249.80 623.90,245.60" fill="#0000ff"/>
<polygon points="651.20,241.40 655.40,245.60 651.20,249.80 647.00,245.60" fill="#0000ff"/>
<polygon points="674.10,241.40 678.30,245.60 674.10,249.80 669.90,245.60" fill="#0000ff"/>
<polyline points="449.20,245.20 456.80,245.20 464.40,112.60 473.90,138.90 483.80,225.80 493.30,234.80 502.60,239.20 516.40,241.40 527.90,242.20 541.50,244.00 556.50,244.00 571.90,244.00 589.20,244.00 608.90,244.00 628.10,244.00 651.20,244.00 674.10,244.00" fill="none" stroke="#ff8000" stroke-width="1.0" stroke-linejoin="round"/>
<circle cx="449.20" cy="245.20" r="3.50" fill="#ff8000"/>
<circle cx="456.80" cy="245.20" r="3.50" fill="#ff8000"/>
<circle cx="464.40" cy="112.60" r="3.50" fill="#ff8000"/>
<circle cx="473.90" cy="138.90" r="3.50" fill="#ff8000"/>
<circle cx="483.80" cy="225.80" r="3.50" fill="#ff8000"/>
<circle cx="493.30" cy="234.80" r="3.50" fill="#ff8000"/>
<circle cx="502.60" cy="239.20" r="3.50" fill="#ff8000"/>
<circle cx="516.40" cy="241.40" r="3.50" fill="#ff8000"/>
<circle cx="527.90" cy="242.20" r="3.50" fill="#ff8000"/>
<circle cx="541.50" cy="244.00" r="3.50" fill="#ff8000"/>
<circle cx="556.50" cy="244.00" r="3.50" fill="#ff8000"/>
<circle cx="571.90" cy="244.00" r="3.50" fill="#ff8000"/>
<circle cx="589.20" cy="244.00" r="3.50" fill="#ff8000"/>
<circle cx="608.90" cy="244.00" r="3.50" fill="#ff8000"/>
<circle cx="628.10" cy="244.00" r="3.50" fill="#ff8000"/>
<circle cx="651.20" cy="244.00" r="3.50" fill="#ff8000"/>
<circle cx="674.10" cy="244.00" r="3.50" fill="#ff8000"/>
<polyline points="446.00,244.40 455.60,217.30 461.20,171.50 473.10,211.50 483.50,237.00 493.30,238.80 502.60,241.00 508.80,241.40 527.90,242.80 541.50,244.40 556.50,244.40 571.90,244.40 589.20,244.40 608.90,244.40 628.10,244.40 651.20,244.40 674.10,244.40" fill="none" stroke="#ff0000" stroke-width="1.0" stroke-linejoin="round"/>
<polygon points="446.00,239.87 450.00,246.67 442.00,246.67" fill="#ff0000"/>
<polygon points="455.60,212.77 459.60,219.57 451.60,219.57" fill="#ff0000"/>
<polygon points="461.20,166.97 465.20,173.77 457.20,173.77" fill="#ff0000"/>
<polygon points="473.10,206.97 477.10,213.77 469.10,213.77" fill="#ff0000"/>
<polygon points="483.50,232.47 487.50,239.27 479.50,239.27" fill="#ff0000"/>
<polygon points="493.30,234.27 497.30,241.07 489.30,241.07" fill="#ff0000"/>
<polygon points="502.60,236.47 506.60,243.27 498.60,243.27" fill="#ff0000"/>
<polygon points="508.80,236.87 512.80,243.67 504.80,243.67" fill="#ff0000"/>
<polygon points="527.90,238.27 531.90,245.07 523.90,245.07" fill="#ff0000"/>
<polygon points="541.50,239.87 545.50,246.67 537.50,246.67" fill="#ff0000"/>
<polygon points="556.50,239.87 560.50,246.67 552.50,246.67" fill="#ff0000"/>
<polygon points="571.90,239.87 575.90,246.67 567.90,246.67" fill="#ff0000"/>
<polygon points="589.20,239.87 593.20,246.67 585.20,246.67" fill="#ff0000"/>
<polygon points="608.90,239.87 612.90,246.67 604.90,246.67" fill="#ff0000"/>
<polygon points="628.10,239.87 632.10,246.67 624.10,246.67" fill="#ff0000"/>
<polygon points="651.20,239.87 655.20,246.67 647.20,246.67" fill="#ff0000"/>
<polygon points="674.10,239.87 678.10,246.67 670.10,246.67" fill="#ff0000"/>
</g>
<line x1="535.2" y1="170.1" x2="555.5" y2="170.1" stroke="#0000ff" stroke-width="1"/>
<polygon points="545.60,166.10 549.60,170.10 545.60,174.10 541.60,170.10" fill="#0000ff"/>
<text x="0" y="0" transform="translate(558.2,173.1) scale(1,1.12)" font-size="9.3" fill="#0000ff" fill-opacity="1" textLength="48.00" lengthAdjust="spacingAndGlyphs"><tspan dy="0.00">UiO-66(Ce)</tspan></text>
<line x1="535.2" y1="181.4" x2="555.5" y2="181.4" stroke="#ff8000" stroke-width="1"/>
<circle cx="545.60" cy="181.40" r="3.50" fill="#ff8000"/>
<text x="0" y="0" transform="translate(558.2,184.4) scale(1,1.12)" font-size="9.3" fill="#ff8000" fill-opacity="1" textLength="67.40" lengthAdjust="spacingAndGlyphs"><tspan dy="0.00">UiO-66(Ce)-NH</tspan><tspan font-size="6.98" dy="2.23">2</tspan></text>
<line x1="535.2" y1="195.1" x2="555.5" y2="195.1" stroke="#ff0000" stroke-width="1"/>
<polygon points="545.60,191.17 550.00,196.77 541.20,196.77" fill="#ff0000"/>
<text x="0" y="0" transform="translate(558.2,198.1) scale(1,1.12)" font-size="9.3" fill="#ff0000" fill-opacity="1" textLength="109.20" lengthAdjust="spacingAndGlyphs"><tspan dy="0.00">CsCu</tspan><tspan font-size="6.98" dy="2.23">2</tspan><tspan dy="-2.23">I</tspan><tspan font-size="6.98" dy="2.23">3</tspan><tspan dy="-2.23">@UiO-66(Ce)-NH</tspan><tspan font-size="6.98" dy="2.23">2</tspan></text>
</svg>
</body></html>
